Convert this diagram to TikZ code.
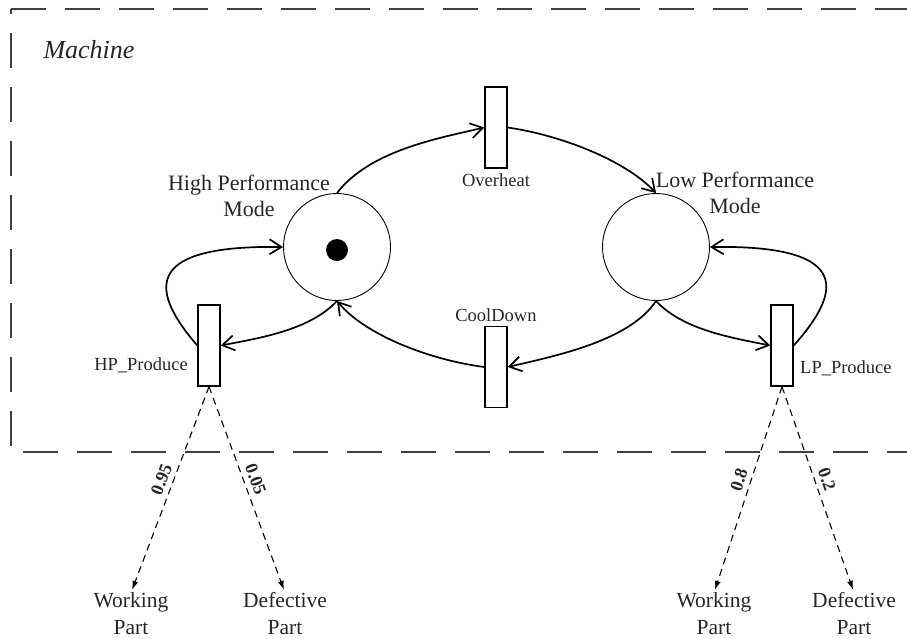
\documentclass[tikz,border=0pt]{standalone}
\usepackage{fontspec}
\setmainfont{Liberation Serif}
\usetikzlibrary{arrows.meta}
\begin{document}
\begin{tikzpicture}[x=1pt,y=-1pt,
  place/.style={circle,draw,line width=0.9pt,minimum size=107pt,inner sep=0pt},
  trans/.style={rectangle,draw,line width=1.4pt,minimum width=22pt,minimum height=81pt,inner sep=0pt},
  token/.style={circle,fill,minimum size=22pt,inner sep=0pt},
  arcline/.style={line width=1.7pt,-{Straight Barb[length=12pt,width=15pt,line width=1.7pt]}},
  darrow/.style={line width=1.1pt,dash pattern=on 7pt off 5pt,-{Latex[length=9pt,width=6pt]}},
  border/.style={line width=2pt,black!75,dash pattern=on 35pt off 19pt},
  mainlbl/.style={font=\fontsize{22}{26}\selectfont,align=center,inner sep=0pt,text=black!85},
  smalllbl/.style={font=\fontsize{18.5}{21}\selectfont,inner sep=0pt,text=black!85},
  outlbl/.style={font=\fontsize{21.5}{27}\selectfont,align=center,inner sep=0pt,text=black!85},
  prob/.style={font=\fontsize{18}{20}\selectfont\bfseries,sloped,above=4pt,inner sep=1pt,text=black!85}
]
\useasboundingbox (0,0) rectangle (907,638);

% machine border
\draw[border] (11,9) -- (907,9);
\draw[border,dash phase=30pt] (11,9) -- (11,447);
\draw[border] (23,452) -- (907,452);
\node[font=\fontsize{26}{30}\selectfont\itshape,inner sep=0pt,text=black!85] (mach) at (89,50) {Machine};

% places
\node[place] (hp) at (337,247) {};
\node[token] (tok) at (337,250) {};
\node[place] (lp) at (656,247) {};

% transitions
\node[trans] (oh) at (496,127.5) {};
\node[trans] (cd) at (496,367) {};
\node[trans] (hpp) at (209,345.5) {};
\node[trans] (lpp) at (782,345.5) {};

% labels
\node[mainlbl] (hplbl) at (249,196) {High Performance\\Mode};
\node[mainlbl] (lplbl) at (735,193) {Low Performance\\Mode};
\node[smalllbl] (ohlbl) at (496,180) {Overheat};
\node[smalllbl] (cdlbl) at (496,315) {CoolDown};
\node[smalllbl,anchor=east] (hpplbl) at (188,365) {HP\_Produce};
\node[smalllbl,anchor=west] (lpplbl) at (800,368) {LP\_Produce};

% arcs
\draw[arcline] (hp.north) .. controls (370,150) and (440,138) .. (oh.west);
\draw[arcline] (oh.east) .. controls (560,135) and (625,160) .. (lp.north);
\draw[arcline] (lp.south) .. controls (630,340) and (560,355) .. (cd.east);
\draw[arcline] (cd.west) .. controls (430,360) and (365,335) .. (hp.south);
\draw[arcline] (hp.south) .. controls (310,330) and (260,338) .. (hpp.east);
\draw[arcline] (hpp.west) .. controls (145,285) and (150,245) .. (hp.west);
\draw[arcline] (lp.south) .. controls (683,330) and (733,338) .. (lpp.west);
\draw[arcline] (lpp.east) .. controls (848,285) and (843,245) .. (lp.east);

% outputs
\node[outlbl] (w1) at (131,614) {Working\\Part};
\node[outlbl] (d1) at (285,614) {Defective\\Part};
\node[outlbl] (w2) at (714,614) {Working\\Part};
\node[outlbl] (d2) at (854,614) {Defective\\Part};

\draw[darrow,shorten >=3pt] (hpp.south) -- (w1.north) node[prob,pos=0.47] {0.95};
\draw[darrow,shorten >=3pt] (hpp.south) -- (d1.north) node[prob,pos=0.47] {0.05};
\draw[darrow,shorten >=3pt] (lpp.south) -- (w2.north) node[prob,pos=0.47] {0.8};
\draw[darrow,shorten >=3pt] (lpp.south) -- (d2.north) node[prob,pos=0.47] {0.2};
\end{tikzpicture}
\end{document}
